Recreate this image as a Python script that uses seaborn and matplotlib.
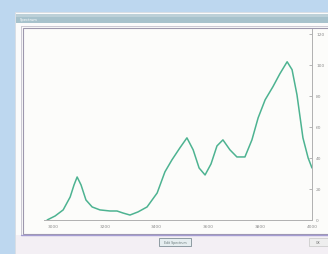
import numpy as np
import pandas as pd
import matplotlib
matplotlib.use("Agg")
import matplotlib.pyplot as plt
import seaborn as sns
from matplotlib.patches import Rectangle

# 1. Data ------------------------------------------------------------------
wavenumber = [2977, 3008, 3039, 3066, 3081, 3093, 3108, 3127, 3151, 3181,
              3220, 3247, 3270, 3297, 3328, 3363, 3402, 3432, 3459, 3490,
              3517, 3541, 3564, 3587, 3610, 3633, 3656, 3683, 3710, 3741,
              3768, 3792, 3819, 3849, 3876, 3904, 3923, 3942, 3965, 3985,
              4000]
intensity = [0.0, 2.6, 6.5, 14.8, 22.6, 27.7, 22.6, 12.9, 8.4, 6.5,
             5.8, 5.8, 4.5, 3.2, 5.2, 8.4, 17.4, 31.0, 38.7, 46.5,
             52.9, 45.2, 33.5, 29.0, 36.1, 47.7, 51.6, 45.2, 40.6, 40.6,
             51.6, 65.8, 77.4, 85.8, 94.2, 101.9, 96.8, 80.6, 52.9, 40.0,
             33.5]
x_ticks = [3000, 3200, 3400, 3600, 3800, 4000]
y_ticks = [0, 20, 40, 60, 80, 100, 120]
window_title = "Spectrum"
button_labels = ["Edit Spectrum", "OK"]

df = pd.DataFrame({"wavenumber": wavenumber, "intensity": intensity})

# 2. Figure and window decoration -------------------------------------------
sns.set_style("white")
plt.rcParams["font.family"] = "DejaVu Sans"

W, H = 328, 255
fig = plt.figure(figsize=(W / 100, H / 100), dpi=100)
fig.patch.set_facecolor("#bdd7ef")

bg = fig.add_axes([0, 0, 1, 1], zorder=0)
bg.set_xlim(0, W)
bg.set_ylim(H, 0)
bg.axis("off")

# dialog window
bg.add_patch(Rectangle((15, 13), 320, 250, facecolor="#fbfbfb", edgecolor="#d8dde2", lw=0.6))
# title bar
bg.add_patch(Rectangle((16, 15), 320, 9, facecolor="#a7c2cc", edgecolor="none"))
bg.add_patch(Rectangle((16, 15), 320, 3, facecolor="#bcd0d8", edgecolor="none"))
bg.text(20, 19.5, window_title, fontsize=2.6, color="#ffffff", va="center", ha="left")
# plot panel frame (double border)
bg.add_patch(Rectangle((20.5, 26.5), 320, 209, facecolor="none", edgecolor="#c4c0cc", lw=0.6))
bg.add_patch(Rectangle((22.5, 28.5), 320, 206, facecolor="#fcfcfa", edgecolor="#9d97ad", lw=0.8))
# bottom strip and buttons
bg.add_patch(Rectangle((16, 236), 320, 20, facecolor="#f3eff4", edgecolor="none"))
bg.plot([21, 330], [235.5, 235.5], color="#a49cd2", lw=1.0)
bg.add_patch(Rectangle((159, 239), 32, 8, facecolor="#e6eef0", edgecolor="#7f8e95", lw=0.6))
bg.text(175, 243, button_labels[0], fontsize=2.3, color="#6a7a7a", ha="center", va="center")
bg.add_patch(Rectangle((309, 239), 24, 8, facecolor="#eeeeee", edgecolor="#c6c6c6", lw=0.5))
bg.text(318, 243, button_labels[1], fontsize=2.3, color="#777777", ha="center", va="center")

# 3. Plot ------------------------------------------------------------------
left, right, top, bottom = 44, 312, 30, 221
ax = fig.add_axes([left / W, 1 - bottom / H, (right - left) / W, (bottom - top) / H], zorder=1)
ax.set_facecolor("none")

sns.lineplot(data=df, x="wavenumber", y="intensity", ax=ax,
             color="#4db391", linewidth=1.1)

ax.set_xlim(2965, 4000)
ax.set_ylim(0, 123)
ax.set_xticks(x_ticks)
ax.set_yticks(y_ticks)
ax.yaxis.tick_right()
ax.tick_params(axis="both", direction="in", length=2, width=0.5,
               labelsize=3.2, colors="#9a9a9a", labelcolor="#8c8c8c", pad=3)
ax.set_xlabel("")
ax.set_ylabel("")
for side in ["top", "left"]:
    ax.spines[side].set_visible(False)
for side in ["right", "bottom"]:
    ax.spines[side].set_color("#b0b0b0")
    ax.spines[side].set_linewidth(0.7)

plt.savefig("out.png", dpi=100, facecolor=fig.get_facecolor())
